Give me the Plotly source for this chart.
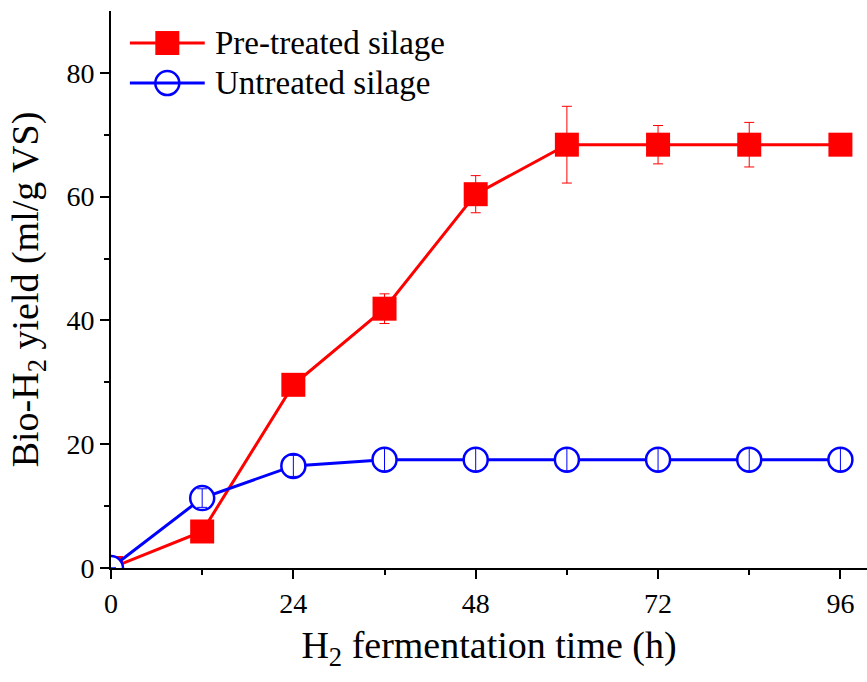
import plotly.graph_objects as go

# Fermentation time (h)
hours = [0, 12, 24, 36, 48, 60, 72, 84, 96]

# Cumulative bio-H2 yield (ml/g VS) and standard deviations
pretreated = [0.0, 5.9, 29.6, 41.9, 60.4, 68.4, 68.4, 68.4, 68.4]
pretreated_sd = [0.0, 0.8, 1.0, 2.4, 3.0, 6.2, 3.1, 3.6, 0.0]
untreated = [0.0, 11.3, 16.5, 17.5, 17.5, 17.5, 17.5, 17.5, 17.5]
untreated_sd = [0.0, 1.5, 1.7, 1.8, 1.8, 1.8, 1.8, 1.8, 1.8]

series_names = ["Pre-treated silage", "Untreated silage"]

x_ticks = [0, 24, 48, 72, 96]
y_ticks = [0, 20, 40, 60, 80]

FONT = "Liberation Serif"
RED = "#ff0000"
BLUE = "#0000ff"

red_marker = dict(symbol="square", size=24, color=RED)
blue_marker = dict(symbol="circle", size=24, color="white", line=dict(color=BLUE, width=2.5))

fig = go.Figure()

fig.add_trace(go.Scatter(
    x=hours, y=pretreated, name=series_names[0],
    mode="lines+markers",
    line=dict(color=RED, width=3),
    marker=red_marker,
    error_y=dict(type="data", array=pretreated_sd, color=RED, thickness=1, width=5),
))

fig.add_trace(go.Scatter(
    x=hours, y=untreated, name=series_names[1],
    mode="lines+markers",
    line=dict(color=BLUE, width=3),
    marker=blue_marker,
))

# error bars for the open circles, drawn on top of the markers
fig.add_trace(go.Scatter(
    x=hours, y=untreated, mode="markers", hoverinfo="skip",
    marker=dict(size=1, color="rgba(0,0,0,0)"),
    error_y=dict(type="data", array=untreated_sd, color=BLUE, thickness=1, width=5),
))

# hand-built legend in the upper-left corner (paper-fraction coordinates)
legend_rows = [0.9425, 0.8707]
line_x0, line_x1, sym_x, text_x = 0.025, 0.124, 0.0745, 0.135
for row_y, color, marker, name in zip(legend_rows, [RED, BLUE], [red_marker, blue_marker], series_names):
    fig.add_shape(type="line", xref="paper", yref="paper",
                  x0=line_x0, x1=line_x1, y0=row_y, y1=row_y,
                  line=dict(color=color, width=3))
    fig.add_trace(go.Scatter(
        x=[sym_x], y=[row_y], xaxis="x2", yaxis="y2", mode="markers",
        marker=marker, hoverinfo="skip", cliponaxis=False,
    ))
    fig.add_annotation(xref="paper", yref="paper", x=text_x, y=row_y,
                       xanchor="left", yanchor="middle", showarrow=False,
                       text=name, font=dict(family=FONT, size=33, color="black"))

axis_common = dict(
    showline=True, linecolor="black", linewidth=2,
    ticks="outside", ticklen=9, tickwidth=2, tickcolor="black",
    showgrid=False, zeroline=False, mirror=False,
    tickfont=dict(family=FONT, size=28, color="black"),
)

fig.update_xaxes(
    range=[0, 99.5], tickvals=x_ticks,
    minor=dict(tickvals=[12, 36, 60, 84], ticks="outside", ticklen=5, tickwidth=2, tickcolor="black"),
    title=dict(text="H<sub>2</sub> fermentation time (h)", font=dict(family=FONT, size=38, color="black"), standoff=14),
    **axis_common,
)
fig.update_yaxes(
    range=[0, 90], tickvals=y_ticks,
    minor=dict(tickvals=[10, 30, 50, 70], ticks="outside", ticklen=5, tickwidth=2, tickcolor="black"),
    title=dict(text="Bio-H<sub>2</sub> yield (ml/g VS)", font=dict(family=FONT, size=38, color="black"), standoff=16),
    **axis_common,
)

fig.update_layout(
    width=867, height=682,
    margin=dict(l=111, r=0, t=11, b=114),
    plot_bgcolor="white", paper_bgcolor="white",
    showlegend=False,
    xaxis2=dict(overlaying="x", range=[0, 1], visible=False),
    yaxis2=dict(overlaying="y", range=[0, 1], visible=False),
)

fig.write_html("out.html")
